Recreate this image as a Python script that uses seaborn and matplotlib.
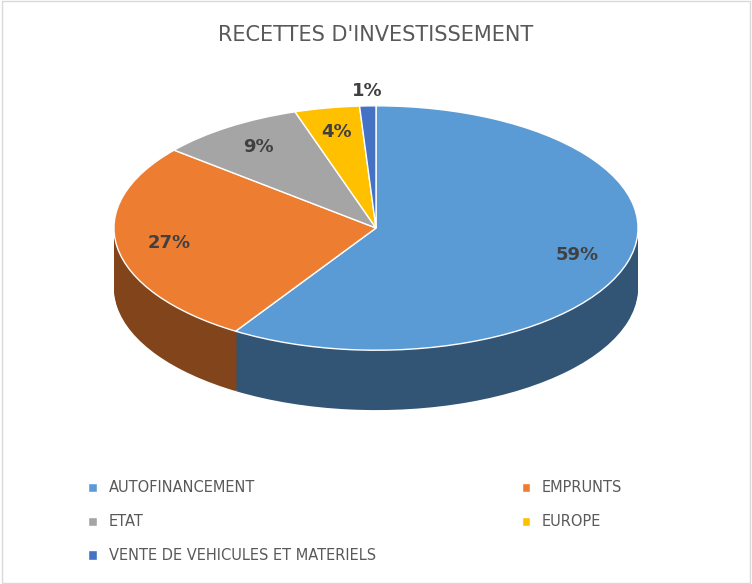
import matplotlib
matplotlib.use("Agg")
import matplotlib.pyplot as plt
import matplotlib.colors as mcolors
from matplotlib.patches import Patch, Rectangle
import seaborn as sns
import numpy as np

sns.set_theme(style="white")
plt.rcParams['font.family'] = ['DejaVu Sans']

categories = ["AUTOFINANCEMENT", "EMPRUNTS", "ETAT", "EUROPE", "VENTE DE VEHICULES ET MATERIELS"]
values = [59, 27, 9, 4, 1]
colors = ["#5b9bd5", "#ed7d31", "#a5a5a5", "#ffc000", "#4472c4"]

fig = plt.figure(figsize=(7.52, 5.84), dpi=100)
fig.patches.append(Rectangle((0.002, 0.002), 0.996, 0.996, transform=fig.transFigure,
                             fill=False, edgecolor="#d9d9d9", lw=1))
ax = fig.add_axes([0, 0.212, 1, 0.634])

# extruded side of the pie
depth = 0.49
n_layers = 40
side = [tuple(np.array(mcolors.to_rgb(c)) * 0.55) for c in colors]
for i in range(n_layers, 0, -1):
    off = -depth * i / n_layers
    ax.pie(values, colors=side, startangle=90, counterclock=False,
           center=(0, off), radius=1, frame=True,
           wedgeprops=dict(linewidth=0, edgecolor="none"))

wedges, texts, autotexts = ax.pie(
    values, colors=colors, startangle=90, counterclock=False,
    autopct=lambda p: f"{round(p)}%", pctdistance=0.8, frame=True,
    wedgeprops=dict(edgecolor="white", linewidth=1),
    textprops=dict(color="#404040", fontsize=13, fontweight="bold"))
x, y = autotexts[-1].get_position()
autotexts[-1].set_position((x * 1.4, y * 1.4))

ax.set_aspect("auto")
ax.set_xlim(-1.435, 1.435)
ax.set_ylim(-1.90, 1.13)
ax.axis("off")

fig.text(0.5, 0.94, "RECETTES D'INVESTISSEMENT", ha="center", va="center",
         fontsize=15, color="#595959")

handles = [Patch(facecolor=c, label=l) for c, l in zip(colors, categories)]
order = [0, 2, 4, 1, 3]
fig.legend(handles=[handles[i] for i in order], loc="upper left", bbox_to_anchor=(0.1, 0.2), ncol=2,
           frameon=False, fontsize=10.5, labelcolor="#595959", handlelength=0.6,
           handleheight=0.6, columnspacing=10, labelspacing=1.3)

fig.savefig("out.png", dpi=100)
